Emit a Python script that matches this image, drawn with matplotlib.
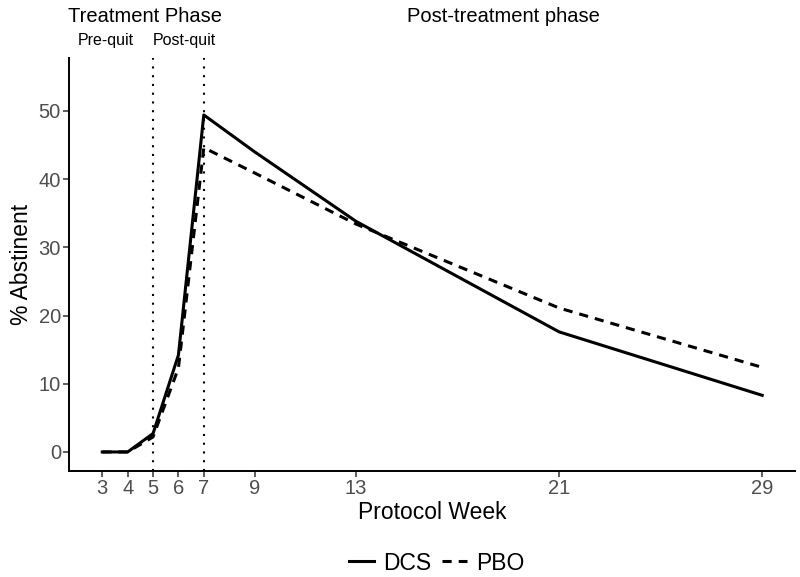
import matplotlib
matplotlib.use("Agg")
import matplotlib.pyplot as plt
import matplotlib.transforms as mtransforms

plt.rcParams['font.family'] = ['Liberation Sans', 'DejaVu Sans']

weeks = [3, 4, 5, 6, 7, 9, 13, 21, 29]
dcs = [0, 0, 2.7, 14.2, 49.4, 44.0, 33.8, 17.6, 8.3]
pbo = [0, 0, 2.2, 12.3, 44.6, 40.9, 33.4, 21.1, 12.4]
xticks = [3, 4, 5, 6, 7, 9, 13, 21, 29]
yticks = [0, 10, 20, 30, 40, 50]
phase_lines = [5, 7]

fig = plt.figure(figsize=(8, 5.77), dpi=100)
ax = fig.add_axes([0.0866, 0.1842, 0.994 - 0.0866, 0.8995 - 0.1842])

for v in phase_lines:
    ax.axvline(v, color='black', lw=1.5, linestyle=(0, (1, 3.2)), zorder=1)

ax.plot(weeks, dcs, color='black', lw=2.2, solid_joinstyle='round', label='DCS', zorder=3)
ax.plot(weeks, pbo, color='black', lw=2.2, linestyle=(0, (3.0, 2.3)), label='PBO', zorder=2)

ax.set_xlim(1.7, 30.3)
ax.set_ylim(-2.75, 57.75)
ax.set_xticks(xticks)
ax.set_yticks(yticks)
ax.tick_params(axis='both', labelsize=14.5, labelcolor='#4d4d4d', length=4, width=1.1,
               color='#333333', pad=2)
for s in ['top', 'right']:
    ax.spines[s].set_visible(False)
for s in ['left', 'bottom']:
    ax.spines[s].set_linewidth(1.4)
    ax.spines[s].set_color('black')

ax.set_xlabel('Protocol Week', fontsize=16.5, labelpad=2)
ax.set_ylabel('% Abstinent', fontsize=16.5, labelpad=4)

trans = mtransforms.blended_transform_factory(ax.transData, fig.transFigure)
ax.text(4.67, 1 - 17 / 577, 'Treatment Phase', transform=trans, ha='center', va='center',
        fontsize=14.5, clip_on=False)
ax.text(3.15, 1 - 41 / 577, 'Pre-quit', transform=trans, ha='center', va='center',
        fontsize=11.5, clip_on=False)
ax.text(6.25, 1 - 41 / 577, 'Post-quit', transform=trans, ha='center', va='center',
        fontsize=11.5, clip_on=False)
ax.text(18.8, 1 - 16 / 577, 'Post-treatment phase', transform=trans, ha='center', va='center',
        fontsize=14.5, clip_on=False)

fig.legend(loc='center', bbox_to_anchor=(437 / 800, 1 - 563 / 577), ncol=2, frameon=False,
           fontsize=16.5, handlelength=1.1, handletextpad=0.4, columnspacing=0.45,
           borderpad=0.1)

fig.savefig('out.png', dpi=100, facecolor='white')
